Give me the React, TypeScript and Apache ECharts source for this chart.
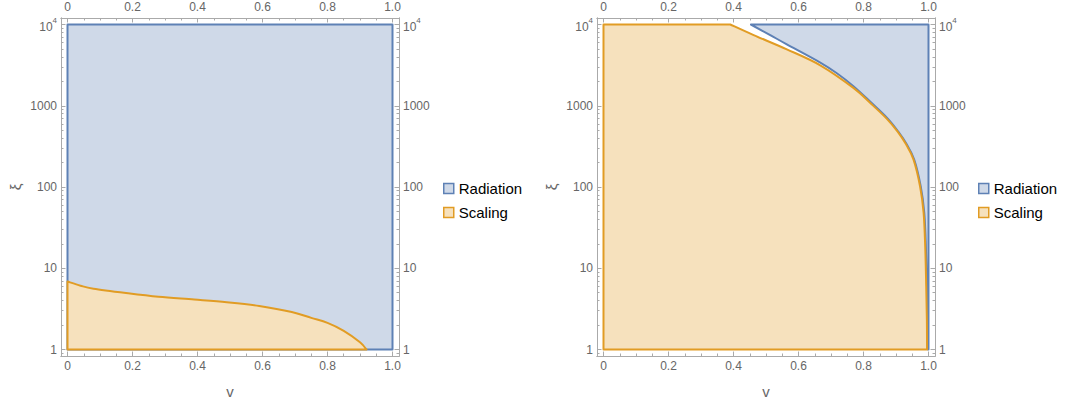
import React, { useEffect, useRef } from 'react';
import * as echarts from 'echarts';

// ---------- tick values ----------
const xMajorTicks = [0, 0.2, 0.4, 0.6, 0.8, 1.0];
const xMinorTicks = [0.05, 0.1, 0.15, 0.25, 0.3, 0.35, 0.45, 0.5, 0.55, 0.65, 0.7, 0.75, 0.85, 0.9, 0.95];
const yMajorTicks = [1, 10, 100, 1000, 10000];
const yMinorTicks = [
  0.9, 2, 3, 4, 5, 6, 7, 8, 9,
  20, 30, 40, 50, 60, 70, 80, 90,
  200, 300, 400, 500, 600, 700, 800, 900,
  2000, 3000, 4000, 5000, 6000, 7000, 8000, 9000,
];

// ---------- left panel ----------
// Radiation: full rectangle
const radiationLeftCornersX = [0, 1, 1, 0];
const radiationLeftCornersY = [1, 1, 10000, 10000];
// Scaling: corner at origin, then the boundary curve
const scalingLeftCornersX = [0];
const scalingLeftCornersY = [1];
const scalingLeftCurveX = [0, 0.04, 0.08, 0.18, 0.28, 0.39, 0.49, 0.59, 0.69, 0.75, 0.8, 0.85, 0.9, 0.92];
const scalingLeftCurveY = [6.86, 6.1, 5.6, 4.95, 4.45, 4.12, 3.82, 3.44, 2.9, 2.45, 2.13, 1.7, 1.23, 1.0];

// ---------- right panel ----------
// Radiation: boundary curve, then corners on the right edge
const radiationRightCurveX = [0.4535, 0.513, 0.564, 0.667, 0.718, 0.769, 0.821, 0.874, 0.907, 0.932, 0.956, 0.976, 0.987, 0.992, 0.995, 0.997, 0.998];
const radiationRightCurveY = [10000, 7400, 5700, 3400, 2510, 1740, 1120, 700, 480, 340, 217, 102, 48, 18, 6, 2.3, 1];
const radiationRightCornersX = [1, 1];
const radiationRightCornersY = [1, 10000];
// Scaling: corners on the left/top, then the boundary curve
const scalingRightCornersX = [0, 0];
const scalingRightCornersY = [1, 10000];
const scalingRightCurveX = [0.39, 0.462, 0.564, 0.667, 0.769, 0.821, 0.872, 0.905, 0.93, 0.954, 0.974, 0.985, 0.99, 0.993, 0.995, 0.9955];
const scalingRightCurveY = [10000, 7400, 4950, 3150, 1660, 1080, 690, 480, 340, 217, 102, 48, 18, 6, 2.3, 1];

const seriesNames = ['Radiation', 'Scaling'];

// ---------- style ----------
const blueLine = '#5e81b5';
const blueFill = '#cfd9e8';
const orangeLine = '#e19c24';
const orangeFill = '#f6e1bd';
const frameColor = '#aaaaaa';
const labelColor = '#666666';
const font = 'Liberation Sans, Arial, sans-serif';

const xMin = -0.02;
const xMax = 1.02;
const yMin = Math.pow(10, -0.08);
const yMax = Math.pow(10, 4.08);

const gridLefts = [61, 597];

function xAxes(g: number) {
  const base = (position: string, ticks: number[], len: number, labels: boolean, named: boolean) => ({
    type: 'value',
    gridIndex: g,
    position,
    min: xMin,
    max: xMax,
    axisLine: { show: true, onZero: false, lineStyle: { color: frameColor, width: 1 } },
    axisTick: { show: true, inside: true, length: len, customValues: ticks, lineStyle: { color: frameColor, width: 1 } },
    axisLabel: labels
      ? {
          show: true,
          customValues: xMajorTicks,
          margin: position === 'top' ? 5 : 4,
          color: labelColor,
          fontSize: 12,
          fontFamily: font,
          formatter: (v: number) => (v === 0 ? '0' : v.toFixed(1)),
        }
      : { show: false },
    splitLine: { show: false },
    name: named ? 'v' : '',
    nameLocation: 'middle',
    nameGap: 28,
    nameTextStyle: { color: labelColor, fontSize: 15, fontFamily: font },
  });
  return [
    base('bottom', xMajorTicks, 4.5, true, true),
    base('bottom', xMinorTicks, 2.5, false, false),
    base('top', xMajorTicks, 4.5, true, false),
    base('top', xMinorTicks, 2.5, false, false),
  ];
}

function yAxes(g: number) {
  const base = (position: string, ticks: number[], len: number, labels: boolean, named: boolean) => ({
    type: 'log',
    logBase: 10,
    gridIndex: g,
    position,
    min: yMin,
    max: yMax,
    axisLine: { show: true, onZero: false, lineStyle: { color: frameColor, width: 1 } },
    axisTick: { show: true, inside: true, length: len, customValues: ticks, lineStyle: { color: frameColor, width: 1 } },
    axisLabel: labels
      ? {
          show: true,
          customValues: yMajorTicks,
          margin: 4,
          color: labelColor,
          fontSize: 12,
          fontFamily: font,
          formatter: (v: number) => (v >= 9999 ? '{b|10}{s|4}' : String(Math.round(v))),
          rich: {
            b: { fontSize: 12, lineHeight: 16, verticalAlign: 'bottom', color: labelColor, fontFamily: font },
            s: { fontSize: 8, verticalAlign: 'top', color: labelColor, fontFamily: font },
          },
        }
      : { show: false },
    splitLine: { show: false },
    minorTick: { show: false },
    name: named ? 'ξ' : '',
    nameLocation: 'middle',
    nameGap: 38,
    nameRotate: 90,
    nameTextStyle: { color: labelColor, fontSize: 15, fontFamily: font },
  });
  return [
    base('left', yMajorTicks, 4.5, true, true),
    base('left', yMinorTicks, 2.5, false, false),
    base('right', yMajorTicks, 4.5, true, false),
    base('right', yMinorTicks, 2.5, false, false),
  ];
}

type Pt = number[];

// Smooth path through curve points (Catmull-Rom as cubic Bezier), straight lines for corners.
function curveSegments(p: Pt[]): string {
  let d = '';
  const n = p.length;
  for (let i = 0; i < n - 1; i++) {
    const p0 = p[Math.max(0, i - 1)];
    const p1 = p[i];
    const p2 = p[i + 1];
    const p3 = p[Math.min(n - 1, i + 2)];
    const c1x = p1[0] + (p2[0] - p0[0]) / 6;
    const c1y = p1[1] + (p2[1] - p0[1]) / 6;
    const c2x = p2[0] - (p3[0] - p1[0]) / 6;
    const c2y = p2[1] - (p3[1] - p1[1]) / 6;
    d += ` C${c1x.toFixed(2)} ${c1y.toFixed(2)} ${c2x.toFixed(2)} ${c2y.toFixed(2)} ${p2[0].toFixed(2)} ${p2[1].toFixed(2)}`;
  }
  return d;
}

function regionSeries(
  name: string,
  g: number,
  before: [number[], number[]],
  curve: [number[], number[]],
  after: [number[], number[]],
  fill: string,
  stroke: string,
  z: number
) {
  const allX = [...before[0], ...curve[0], ...after[0]];
  const allY = [...before[1], ...curve[1], ...after[1]];
  return {
    type: 'custom',
    name,
    coordinateSystem: 'cartesian2d',
    xAxisIndex: g * 4,
    yAxisIndex: g * 4,
    z,
    silent: true,
    clip: false,
    itemStyle: { color: fill, borderColor: stroke },
    data: allX.map((x, i) => [x, allY[i]]),
    renderItem: (params: any, api: any) => {
      if (params.dataIndex !== 0) return null;
      const b = before[0].map((x, i) => api.coord([x, before[1][i]]));
      const c = curve[0].map((x, i) => api.coord([x, curve[1][i]]));
      const a = after[0].map((x, i) => api.coord([x, after[1][i]]));
      const f = (q: Pt) => `${q[0].toFixed(2)} ${q[1].toFixed(2)}`;
      let d = '';
      const start = b.length ? b[0] : c[0];
      d += `M${f(start)}`;
      for (let i = 1; i < b.length; i++) d += ` L${f(b[i])}`;
      if (c.length) {
        if (b.length) d += ` L${f(c[0])}`;
        d += curveSegments(c);
      }
      for (const q of a) d += ` L${f(q)}`;
      d += ' Z';
      return {
        type: 'path',
        shape: { pathData: d },
        style: { fill, stroke, lineWidth: 2, lineJoin: 'round' },
      };
    },
  };
}

const legendData = [
  { name: seriesNames[0], icon: 'rect', itemStyle: { color: blueFill, borderColor: blueLine, borderWidth: 1.5 } },
  { name: seriesNames[1], icon: 'rect', itemStyle: { color: orangeFill, borderColor: orangeLine, borderWidth: 1.5 } },
];

function legend(left: number) {
  return {
    left,
    top: 181,
    padding: 0,
    orient: 'vertical',
    itemWidth: 10,
    itemHeight: 10,
    itemGap: 9,
    selectedMode: false,
    textStyle: { fontSize: 15, color: '#000', fontFamily: font },
    data: legendData,
  };
}

export default function App() {
  const ref = useRef<HTMLDivElement>(null);
  useEffect(() => {
    if (!ref.current) return;
    const chart = echarts.init(ref.current, undefined, { renderer: 'svg' });
    chart.setOption({
      animation: false,
      backgroundColor: '#ffffff',
      grid: gridLefts.map((l) => ({ left: l, top: 18, width: 338, height: 338, containLabel: false })),
      xAxis: [...xAxes(0), ...xAxes(1)],
      yAxis: [...yAxes(0), ...yAxes(1)],
      legend: [legend(443), legend(978)],
      series: [
        regionSeries(seriesNames[0], 0, [radiationLeftCornersX, radiationLeftCornersY], [[], []], [[], []], blueFill, blueLine, 2),
        regionSeries(seriesNames[1], 0, [scalingLeftCornersX, scalingLeftCornersY], [scalingLeftCurveX, scalingLeftCurveY], [[], []], orangeFill, orangeLine, 3),
        regionSeries(seriesNames[0], 1, [[], []], [radiationRightCurveX, radiationRightCurveY], [radiationRightCornersX, radiationRightCornersY], blueFill, blueLine, 2),
        regionSeries(seriesNames[1], 1, [scalingRightCornersX, scalingRightCornersY], [scalingRightCurveX, scalingRightCurveY], [[], []], orangeFill, orangeLine, 3),
      ],
    });
    return () => chart.dispose();
  }, []);
  return (
    <div
      ref={ref}
      style={{ position: 'fixed', left: 0, top: 0, width: 1067, height: 405 }}
    />
  );
}
